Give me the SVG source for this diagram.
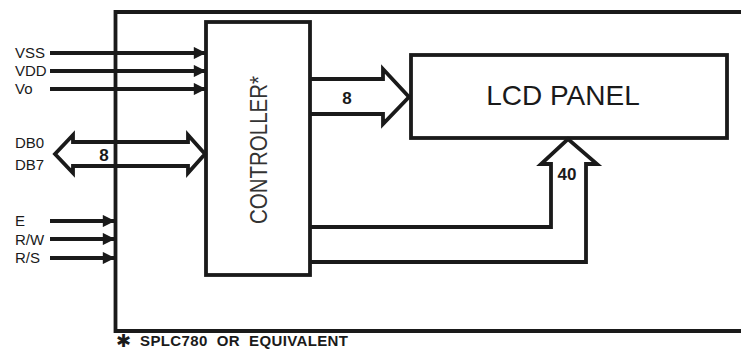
<svg xmlns="http://www.w3.org/2000/svg" width="741" height="353" viewBox="0 0 741 353">
<style>
.ln{fill:none;stroke:#1a1a1a;stroke-width:3.8;stroke-linejoin:miter}
.box{fill:#fff;stroke:#1a1a1a;stroke-width:3.8}
.lbl{font-family:"Liberation Sans",Arial,sans-serif;font-size:15px;fill:#1a1a1a}
.bus{font-family:"Liberation Sans",Arial,sans-serif;font-size:17px;font-weight:bold;fill:#1a1a1a}
</style>
<defs>
<marker id="ah" viewBox="0 0 10 10" refX="10" refY="5" markerWidth="4.4" markerHeight="3.2" markerUnits="strokeWidth" orient="auto">
<path d="M0,0 L10,5 L0,10 Z" fill="#1a1a1a"/>
</marker>
</defs>
<g id="frame">
<path class="ln" d="M741,12 H115.5 V331 H741"/>
</g>
<g id="controller">
<rect class="box" x="206" y="22" width="104" height="253"/>
<text transform="translate(267,150) rotate(-90)" text-anchor="middle" font-family="'Liberation Sans',Arial,sans-serif" font-size="24" fill="#333" textLength="148" lengthAdjust="spacingAndGlyphs">CONTROLLER*</text>
</g>
<g id="lcd">
<rect class="box" x="411" y="55" width="316" height="83"/>
<text x="563" y="105" text-anchor="middle" font-family="'Liberation Sans',Arial,sans-serif" font-size="28" fill="#1a1a1a">LCD PANEL</text>
</g>
<g id="labels">
<text class="lbl" x="15" y="58">VSS</text>
<text class="lbl" x="15" y="76">VDD</text>
<text class="lbl" x="15" y="94">Vo</text>
<text class="lbl" x="15" y="148">DB0</text>
<text class="lbl" x="15" y="170">DB7</text>
<text class="lbl" x="15" y="226">E</text>
<text class="lbl" x="15" y="245">R/W</text>
<text class="lbl" x="15" y="263">R/S</text>
<text x="116" y="347" font-family="'DejaVu Sans',sans-serif" font-size="18" font-weight="bold" fill="#1a1a1a">✱</text>
<text x="140" y="346" font-family="'Liberation Sans',Arial,sans-serif" font-size="15" font-weight="bold" fill="#1a1a1a" xml:space="preserve" textLength="208" lengthAdjust="spacing">SPLC780  OR  EQUIVALENT</text>
</g>
<g id="connectors">
<line class="ln" x1="50" y1="53" x2="206" y2="53" marker-end="url(#ah)"/>
<line class="ln" x1="50" y1="71" x2="206" y2="71" marker-end="url(#ah)"/>
<line class="ln" x1="50" y1="89" x2="206" y2="89" marker-end="url(#ah)"/>
<line class="ln" x1="50" y1="221" x2="115" y2="221" marker-end="url(#ah)"/>
<line class="ln" x1="50" y1="239" x2="115" y2="239" marker-end="url(#ah)"/>
<line class="ln" x1="50" y1="258" x2="115" y2="258" marker-end="url(#ah)"/>
<path class="ln" d="M73,142 H188 V135 L205,154 L188,173 V166 H73 V173 L55,154 L73,135 Z"/>
<text class="bus" x="104" y="161" text-anchor="middle">8</text>
<path class="ln" d="M310,79 H383 V69 L409,97 L383,124 V114 H310"/>
<text class="bus" x="347" y="104" text-anchor="middle">8</text>
<path class="ln" d="M310,227 H551 V164 H541 L568,139 L597,164 H586 V262 H310"/>
<text class="bus" x="567" y="180" text-anchor="middle">40</text>
</g>
</svg>
